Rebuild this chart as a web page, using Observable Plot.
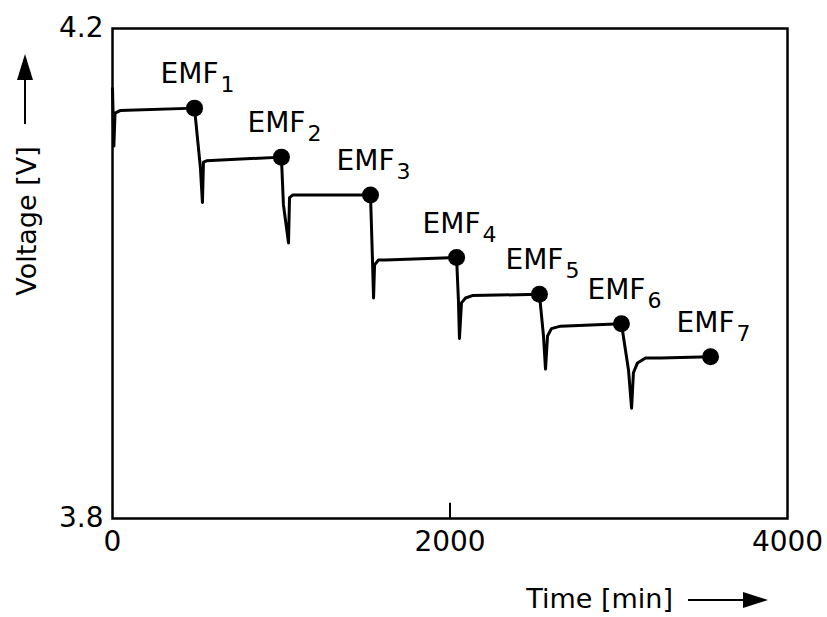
<!DOCTYPE html>
<html><head><meta charset="utf-8">
<script src="https://cdn.jsdelivr.net/npm/d3@7"></script>
<script src="https://cdn.jsdelivr.net/npm/@observablehq/plot@0.6"></script>
<style>body{margin:0;background:#fff}</style>
</head><body><div id="chart"></div>
<script>
const time = [0, 8, 15, 45, 486,
  521, 533, 539, 557, 1001,
  1013, 1043, 1049, 1067, 1529,
  1541, 1547, 1553, 1576, 1618, 2039,
  2050, 2056, 2068, 2092, 2133, 2530,
  2554, 2566, 2578, 2601, 2655, 3016,
  3058, 3076, 3087, 3111, 3159, 3247, 3544];
const voltage = [4.151, 4.104, 4.131, 4.133, 4.135,
  4.086, 4.058, 4.091, 4.092, 4.095,
  4.056, 4.025, 4.062, 4.064, 4.064,
  4.009, 3.980, 4.007, 4.011, 4.011, 4.013,
  3.978, 3.947, 3.976, 3.980, 3.982, 3.983,
  3.949, 3.922, 3.949, 3.955, 3.957, 3.959,
  3.921, 3.890, 3.919, 3.927, 3.931, 3.931, 3.932];
const emfTime = [486, 1001, 1529, 2039, 2530, 3016, 3544];
const emfVoltage = [4.135, 4.095, 4.064, 4.013, 3.983, 3.959, 3.932];
const emfIndex = ["1", "2", "3", "4", "5", "6", "7"];
const xTicks = [0, 2000, 4000];
const yTicks = [3.8, 4.2];

const data = time.map((t, i) => ({t, v: voltage[i]}));
const emf = emfTime.map((t, i) => ({t, v: emfVoltage[i], n: emfIndex[i]}));

const plot = Plot.plot({
  width: 827, height: 617,
  marginLeft: 112, marginRight: 40, marginTop: 28, marginBottom: 99,
  style: {fontFamily: "DejaVu Sans", background: "white", color: "black"},
  x: {domain: [0, 4000]},
  y: {domain: [3.8, 4.2]},
  marks: [
    Plot.axisX({ticks: xTicks, tickSize: 0, tickPadding: 13, tickFormat: d3.format("d"), fontSize: 28, label: null}),
    Plot.axisY({ticks: yTicks, tickSize: 0, tickPadding: 9, tickFormat: d => d.toFixed(1), fontSize: 28, label: null}),
    Plot.ruleX([2000], {y1: 3.8, y2: 3.8125, stroke: "black", strokeWidth: 2}),
    Plot.line(data, {x: "t", y: "v", stroke: "black", strokeWidth: 3}),
    Plot.dot(emf, {x: "t", y: "v", r: 8.5, fill: "black"}),
    Plot.text(emf, {x: "t", y: "v", text: () => "EMF", textAnchor: "end", dx: 24, dy: -34, fontSize: 28}),
    Plot.text(emf, {x: "t", y: "v", text: "n", textAnchor: "start", dx: 26, dy: -23, fontSize: 22}),
    Plot.frame({stroke: "black", strokeWidth: 2.5})
  ]
});

const svg = d3.select(plot);
svg.append("text").attr("x", 673).attr("y", 608).attr("text-anchor", "end")
  .attr("font-size", 27).attr("fill", "black").text("Time [min]");
svg.append("line").attr("x1", 688).attr("x2", 750).attr("y1", 600).attr("y2", 600)
  .attr("stroke", "black").attr("stroke-width", 2);
svg.append("path").attr("d", "M768,600L743,592L743,608Z").attr("fill", "black");

svg.append("text").attr("transform", "translate(36,221) rotate(-90)").attr("text-anchor", "middle")
  .attr("font-size", 27).attr("fill", "black").text("Voltage [V]");
svg.append("line").attr("x1", 25).attr("x2", 25).attr("y1", 124).attr("y2", 72)
  .attr("stroke", "black").attr("stroke-width", 2);
svg.append("path").attr("d", "M25,54L17,80L33,80Z").attr("fill", "black");

document.getElementById("chart").appendChild(plot);
</script>
</body></html>
